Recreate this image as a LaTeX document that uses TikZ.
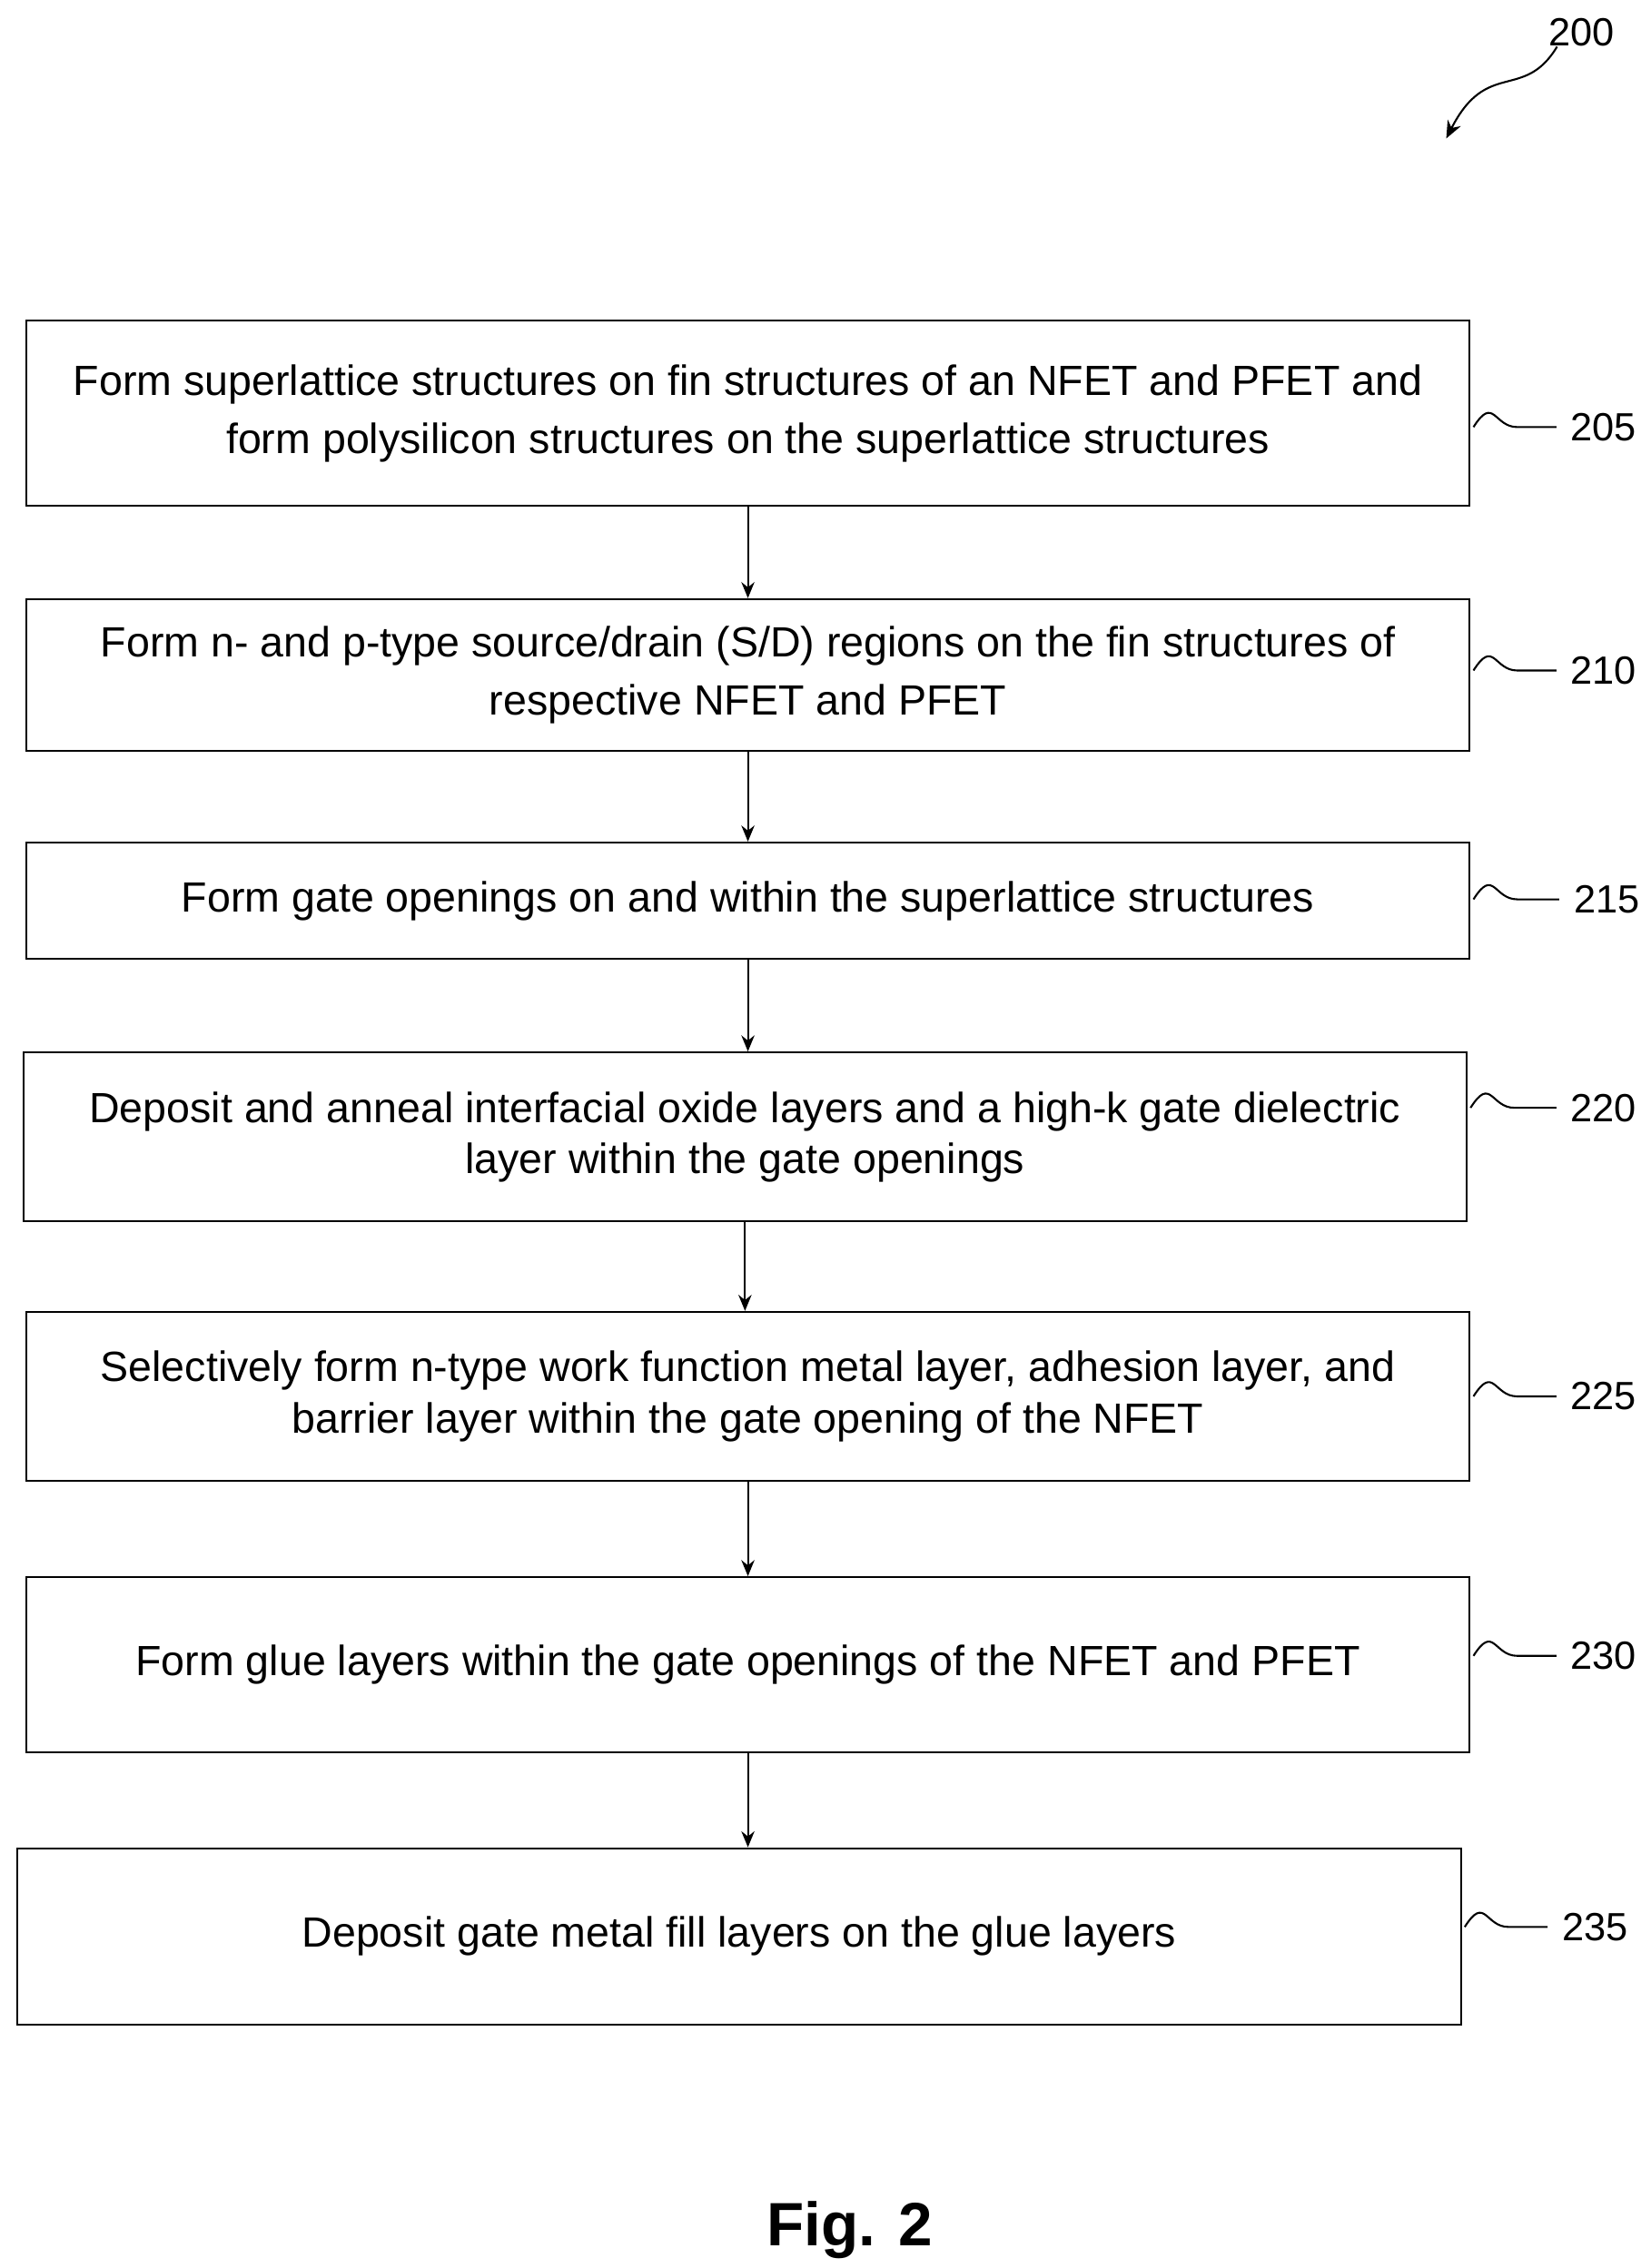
\documentclass[tikz,border=0pt]{standalone}
\usepackage{fontspec}
\setmainfont{Liberation Sans}
\usetikzlibrary{arrows.meta}
\begin{document}
\begin{tikzpicture}[x=1pt,y=-1pt,line width=1.3pt,
  procbox/.style={draw,minimum width=990pt,inner sep=0pt,align=center,
    font=\fontsize{29}{40}\selectfont},
  flow/.style={-{Stealth[length=11pt,width=9pt]}},
  tag/.style={font=\fontsize{27}{30}\selectfont}]
\useasboundingbox (0,0) rectangle (1132,1556);

\node[procbox,minimum height=127pt] (s205) at (513,283.5)
  {Form superlattice structures on fin structures of an NFET and PFET and\\
   form polysilicon structures on the superlattice structures};
\node[procbox,minimum height=104pt] (s210) at (513,463)
  {Form n- and p-type source/drain (S/D) regions on the fin structures of\\
   respective NFET and PFET};
\node[procbox,minimum height=80pt] (s215) at (513,618)
  {Form gate openings on and within the superlattice structures};
\node[procbox,minimum height=116pt,font=\fontsize{29}{35}\selectfont] (s220) at (511,780)
  {Deposit and anneal interfacial oxide layers and a high-k gate dielectric\\
   layer within the gate openings};
\node[procbox,minimum height=116pt,font=\fontsize{29}{35}\selectfont] (s225) at (513,958)
  {Selectively form n-type work function metal layer, adhesion layer, and\\
   barrier layer within the gate opening of the NFET};
\node[procbox,minimum height=120pt] (s230) at (513,1142)
  {Form glue layers within the gate openings of the NFET and PFET};
\node[procbox,minimum height=121pt] (s235) at (507,1328.5)
  {Deposit gate metal fill layers on the glue layers};

% arrows between steps
\draw[flow] (s205.south) -- (s205.south |- s210.north);
\draw[flow] (s210.south) -- (s210.south |- s215.north);
\draw[flow] (s215.south) -- (s215.south |- s220.north);
\draw[flow] (s220.south) -- (s220.south |- s225.north);
\draw[flow] (s225.south) -- (s225.south |- s230.north);
\draw[flow] (s230.south) -- (s230.south |- s235.north);

% reference numerals
\foreach \n/\x/\y in {205/1100/293,210/1100/460,215/1102/617,220/1100/760,
                      225/1100/958,230/1100/1136,235/1094/1322} {
  \node[tag] (t\n) at (\x,\y) {\n};
  \draw ([xshift=2pt]s\n.east |- t\n.west) .. controls +(14,-22) and +(-16,0) .. ++(30,0)
    .. controls +(16,0) and +(-8,0) .. ([xshift=-6pt]t\n.west);
}

\node[tag] (t200) at (1085,22) {200};
\draw[-{Stealth[length=12pt,width=10pt]}] (1068,32) .. controls (1045,70) and (1020,40) .. (992,95);

\node[font=\bfseries\fontsize{42}{48}\selectfont] (fig) at (583,1530) {Fig. 2};
\end{tikzpicture}
\end{document}
